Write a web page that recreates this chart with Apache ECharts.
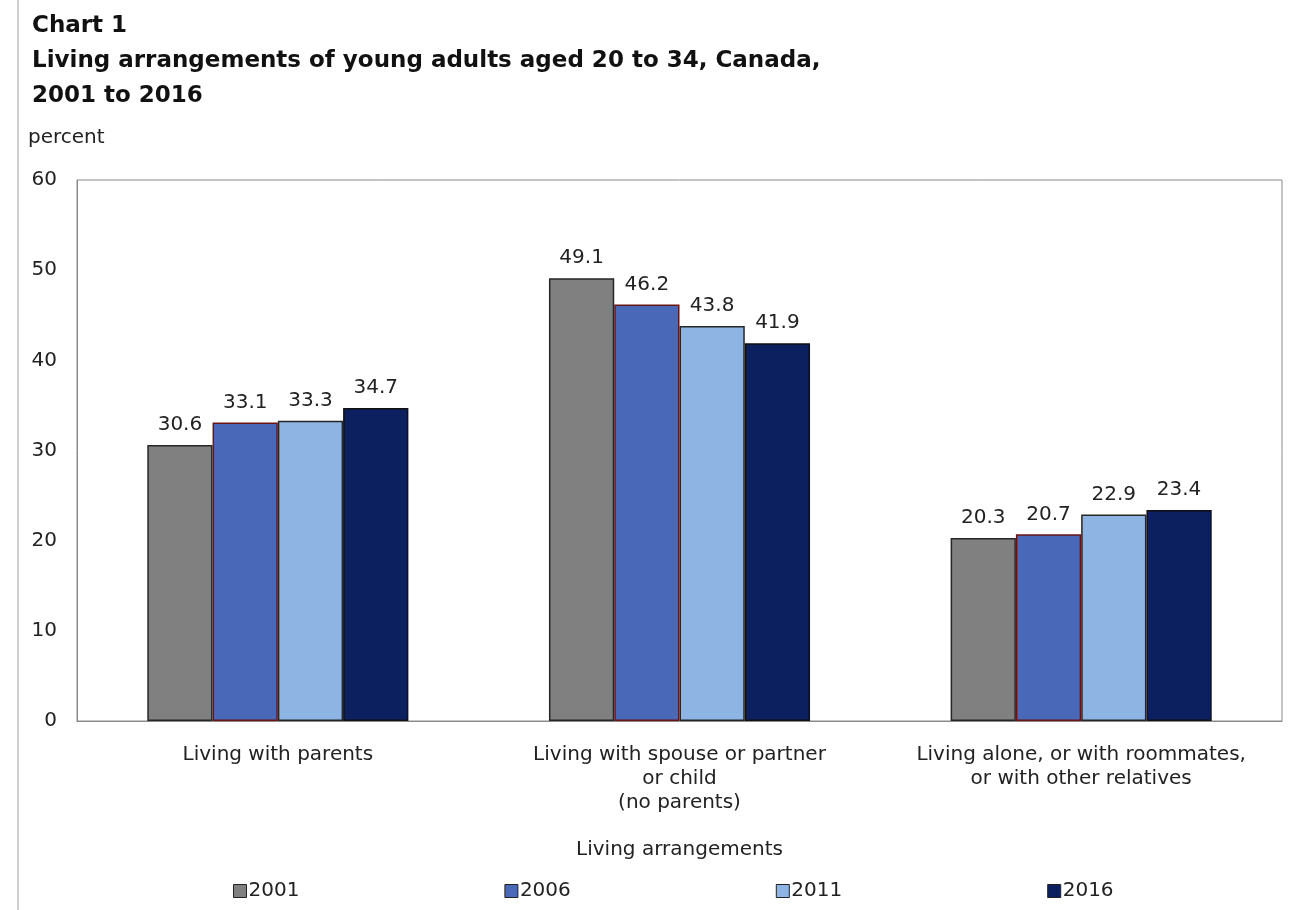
<!DOCTYPE html>
<html>
<head>
<meta charset="utf-8">
<script src="https://cdn.jsdelivr.net/npm/echarts@6/dist/echarts.min.js"></script>
<style>
  html, body { margin: 0; padding: 0; background: #fff; }
  #chart { width: 1297px; height: 910px; }
</style>
</head>
<body>
<div id="chart"></div>
<script>
// Living arrangements of young adults, census years 2001–2016
const categories = [
  'Living with parents',
  'Living with spouse or partner\nor child\n(no parents)',
  'Living alone, or with roommates,\nor with other relatives'
];
const years = ['2001', '2006', '2011', '2016'];
const values2001 = [30.6, 49.1, 20.3];
const values2006 = [33.1, 46.2, 20.7];
const values2011 = [33.3, 43.8, 22.9];
const values2016 = [34.7, 41.9, 23.4];
const yTicks = [0, 10, 20, 30, 40, 50, 60];

const seriesValues = [values2001, values2006, values2011, values2016];
const fills = ['#808080', '#4a68b8', '#8db4e2', '#0c1f5e'];
const edges = ['#262626', '#6a1414', '#262626', '#111111'];
const FONT = '"DejaVu Sans", Verdana, sans-serif';

const chart = echarts.init(document.getElementById('chart'), null, { renderer: 'canvas' });

chart.setOption({
  animation: false,
  backgroundColor: '#ffffff',
  textStyle: { fontFamily: FONT },
  graphic: [
    { type: 'line', shape: { x1: 18, y1: 0, x2: 18, y2: 910 },
      style: { stroke: '#d0d0d0', lineWidth: 2 } }
  ],
  title: {
    text: 'Chart 1\nLiving arrangements of young adults aged 20 to 34, Canada,\n2001 to 2016',
    left: 32, top: 9,
    padding: 0,
    textStyle: { fontFamily: FONT, fontSize: 23, fontWeight: 'bold', color: '#111', lineHeight: 35 }
  },
  legend: {
    data: years,
    top: 881, left: 233,
    padding: 0,
    itemWidth: 13, itemHeight: 13, itemGap: 205,
    icon: 'rect',
    itemStyle: { borderColor: '#222', borderWidth: 1 },
    textStyle: { fontFamily: FONT, fontSize: 20, color: '#222', padding: [0, 0, 0, -3] }
  },
  grid: {
    left: 77, right: 15, top: 180, bottom: 189,
    show: true, borderColor: '#8a8a8a', borderWidth: 1
  },
  xAxis: {
    type: 'category',
    data: categories,
    name: 'Living arrangements',
    nameLocation: 'middle',
    nameGap: 119,
    nameTextStyle: { fontFamily: FONT, fontSize: 20, color: '#222' },
    axisLine: { lineStyle: { color: '#8a8a8a' } },
    axisTick: { show: false },
    axisLabel: { fontFamily: FONT, fontSize: 20, color: '#222', lineHeight: 24, margin: 22, interval: 0 }
  },
  yAxis: {
    type: 'value',
    min: 0, max: 60, interval: 10,
    name: 'percent',
    nameLocation: 'end',
    nameGap: 32,
    nameTextStyle: { fontFamily: FONT, fontSize: 20, color: '#222', align: 'left', padding: [0, 0, 0, -49] },
    axisLine: { show: true, lineStyle: { color: '#8a8a8a' } },
    axisTick: { show: false },
    splitLine: { show: false },
    axisLabel: {
      fontFamily: FONT, fontSize: 20, color: '#222', margin: 20,
      formatter: v => (yTicks.includes(v) ? String(v) : '')
    }
  },
  series: years.map((y, i) => ({
    name: y,
    type: 'bar',
    data: seriesValues[i],
    barGap: '0%',
    barCategoryGap: '35%',
    itemStyle: { color: fills[i], borderColor: edges[i], borderWidth: 1.5 },
    label: {
      show: true, position: 'top', distance: 10,
      fontFamily: FONT, fontSize: 20, color: '#222',
      formatter: p => p.value.toFixed(1)
    }
  }))
});
</script>
</body>
</html>
